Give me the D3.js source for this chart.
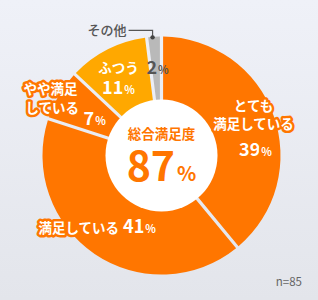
<!DOCTYPE html>
<html>
<head>
<meta charset="utf-8">
<script src="https://cdn.jsdelivr.net/npm/d3@7"></script>
<style>
  html, body { margin: 0; padding: 0; }
  svg { display: block; font-family: "Noto Sans CJK JP", "Noto Sans", sans-serif; }
</style>
</head>
<body>
<div id="chart"></div>
<script>
// 満足度の内訳 (n=85)
var categories = ["とても満足している", "満足している", "やや満足している", "ふつう", "その他"];
var values = [39, 41, 7, 11, 2];
var totalLabel = "総合満足度";
var totalValue = 87;
var sampleNote = "n=85";

// label text lines for each slice (value appended from data)
var labelLines = [["とても", "満足している"], ["満足している"], ["やや満足", "している"], ["ふつう"], []];

var sliceColors = ["#ff7600", "#ff7600", "#ff7600", "#ffa800", "#b9b9b9"];

var width = 318, height = 300;
var cx = 161.5, cy = 155.5;
var outerR = 119, innerR = 55;

var svg = d3.select("#chart").append("svg")
    .attr("width", width)
    .attr("height", height);

///////////// BACKGROUND /////////////
var grad = svg.append("defs").append("linearGradient")
    .attr("id", "bg").attr("x1", 0).attr("y1", 0).attr("x2", 0).attr("y2", 1);
grad.append("stop").attr("offset", "0%").attr("stop-color", "#eff1f8");
grad.append("stop").attr("offset", "100%").attr("stop-color", "#e3e5eb");

svg.append("rect")
    .attr("width", width)
    .attr("height", height)
    .attr("fill", "url(#bg)");

///////////// SLICES /////////////
var pie = d3.pie().sort(null).value(function(d) { return d; });
var arcs = pie(values);

var arc = d3.arc()
    .innerRadius(innerR)
    .outerRadius(outerR)
    .padRadius(outerR)
    .padAngle(3.2 / outerR);

var g = svg.append("g").attr("transform", "translate(" + cx + "," + cy + ")");

g.selectAll("path.slice")
    .data(arcs)
    .enter().append("path")
    .attr("class", "slice")
    .attr("d", arc)
    .attr("fill", function(d, i) { return sliceColors[i]; });

// white centre
g.append("circle")
    .attr("r", innerR + 1)
    .attr("fill", "#ffffff");

///////////// LEADER for その他 /////////////
var other = arcs[4];
var otherAngle = other.startAngle + (other.endAngle - other.startAngle) * 0.4;
var dotX = Math.sin(otherAngle) * (outerR - 0.5);
var dotY = -Math.cos(otherAngle) * (outerR - 0.5);

g.append("path")
    .attr("d", "M" + dotX + "," + dotY + "V" + (dotY - 7) + "H" + (dotX - 24))
    .attr("fill", "none")
    .attr("stroke", "#555")
    .attr("stroke-width", 1.2);
g.append("circle")
    .attr("cx", dotX).attr("cy", dotY).attr("r", 2.2)
    .attr("fill", "#444");
g.append("text")
    .attr("x", dotX - 26)
    .attr("y", dotY - 2.5)
    .attr("text-anchor", "end")
    .attr("font-size", 13)
    .attr("font-weight", 500)
    .attr("fill", "#555")
    .text(categories[4]);

///////////// LABELS /////////////
// offsets from pie centre: [lines..., value line]
var labelPos = [
  { anchor: "middle", lines: [[92, -45], [92, -27]], val: [94, 0] },
  { anchor: "start",  lines: [[-123, 77]], val: null },
  { anchor: "start",  lines: [[-138, -62], [-136, -43]], val: [-78, -31] },
  { anchor: "middle", lines: [[-43, -83]], val: [-43, -62] },
  { anchor: "middle", lines: [], val: [-4, -82] }
];

arcs.forEach(function(d, i) {
  var pos = labelPos[i];
  var col = sliceColors[i];
  var txtCol = i === 4 ? "#555" : "#ffffff";
  var halo = i === 4 ? "none" : col;

  labelLines[i].forEach(function(line, j) {
    var t = g.append("text")
      .attr("x", pos.lines[j][0])
      .attr("y", pos.lines[j][1])
      .attr("text-anchor", pos.anchor)
      .attr("font-size", 13.5)
      .attr("font-weight", 700)
      .attr("fill", txtCol)
      .attr("stroke", halo)
      .attr("stroke-width", 5)
      .attr("stroke-linejoin", "round")
      .attr("paint-order", "stroke");
    t.append("tspan").text(line);
    // single-line label carries its value on the same line
    if (!pos.val) {
      t.append("tspan").attr("dx", 4).attr("font-size", 18).text(values[i]);
      t.append("tspan").attr("font-size", 11).attr("dx", 1).text("%");
    }
  });

  if (pos.val) {
    var v = g.append("text")
      .attr("x", pos.val[0])
      .attr("y", pos.val[1])
      .attr("text-anchor", pos.anchor)
      .attr("font-weight", 700)
      .attr("fill", txtCol)
      .attr("stroke", halo)
      .attr("stroke-width", 5)
      .attr("stroke-linejoin", "round")
      .attr("paint-order", "stroke");
    v.append("tspan").attr("font-size", 18).text(values[i]);
    v.append("tspan").attr("font-size", 11).attr("dx", 1).text("%");
  }
});

///////////// CENTRE TEXT /////////////
g.append("text")
    .attr("y", -17)
    .attr("text-anchor", "middle")
    .attr("font-size", 13.5)
    .attr("font-weight", 700)
    .attr("fill", "#ff7600")
    .text(totalLabel);

var big = g.append("text")
    .attr("y", 25)
    .attr("text-anchor", "middle")
    .attr("font-weight", 700)
    .attr("fill", "#ff7600");
big.append("tspan").attr("font-size", 41).text(totalValue);
big.append("tspan").attr("font-size", 20).attr("dx", 2).text("%");

///////////// NOTE /////////////
svg.append("text")
    .attr("x", 302)
    .attr("y", 286)
    .attr("text-anchor", "end")
    .attr("font-size", 11.5)
    .attr("fill", "#666")
    .text(sampleNote);
</script>
</body>
</html>
